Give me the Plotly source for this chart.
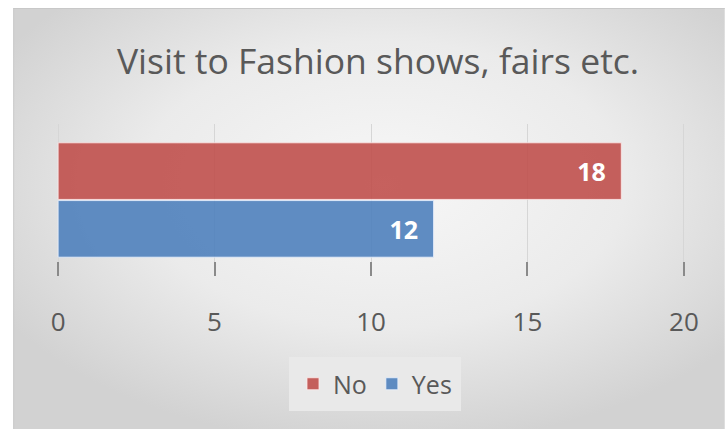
import base64
import plotly.graph_objects as go

# Survey answers
categories = [""]
series_names = ["No", "Yes"]
no_values = [18]
yes_values = [12]
x_ticks = [0, 5, 10, 15, 20]
x_min, x_max = 0, 20

title_text = "Visit to Fashion shows, fairs etc."
font_family = "'Open Sans', Lato, sans-serif"

W, H = 725, 429
# value axis runs from pixel 58 to pixel 684; a small pad keeps the edge gridlines visible
AX_LEFT, AX_RIGHT = 58, 684
PAD = 0.1
unit_px = (AX_RIGHT - AX_LEFT) / (x_max - x_min)
ML = AX_LEFT - PAD * unit_px
MR = W - AX_RIGHT - PAD * unit_px
MT, MB = 124, 153
PW, PH = W - ML - MR, H - MT - MB

# soft radial gradient used as the chart panel background
svg = f"""<svg xmlns='http://www.w3.org/2000/svg' width='712' height='421' viewBox='0 0 712 421'>
<defs><radialGradient id='g' cx='52%' cy='42%' r='62%'>
<stop offset='0' stop-color='#f7f7f7'/><stop offset='0.55' stop-color='#ebebeb'/>
<stop offset='1' stop-color='#d2d2d2'/></radialGradient></defs>
<rect width='712' height='421' fill='url(#g)'/>
<line x1='0' y1='0.5' x2='712' y2='0.5' stroke='#c8c8c8' stroke-width='1'/>
<line x1='0.5' y1='0' x2='0.5' y2='421' stroke='#c8c8c8' stroke-width='1'/>
</svg>"""
bg_uri = "data:image/svg+xml;base64," + base64.b64encode(svg.encode()).decode()


def px_x(px):
    return (px - ML) / PW


def px_y(py):
    return (H - MB - py) / PH


label_font = dict(family=font_family, size=25, color="white", weight="bold")

fig = go.Figure()
fig.add_trace(go.Bar(
    y=categories, x=yes_values, name=series_names[1], orientation="h",
    marker=dict(color="rgba(79,129,189,0.9)", line=dict(color="rgba(235,242,255,0.8)", width=1)),
    text=[f"{v}\u2002" for v in yes_values], textposition="inside", insidetextanchor="end",
    textfont=label_font, legendrank=2, hoverinfo="x+name",
))
fig.add_trace(go.Bar(
    y=categories, x=no_values, name=series_names[0], orientation="h",
    marker=dict(color="rgba(192,80,77,0.9)", line=dict(color="rgba(255,235,235,0.8)", width=1)),
    text=[f"{v}\u2002" for v in no_values], textposition="inside", insidetextanchor="end",
    textfont=label_font, legendrank=1, hoverinfo="x+name",
))

fig.update_layout(
    width=W, height=H,
    margin=dict(l=ML, r=MR, t=MT, b=MB, autoexpand=False),
    paper_bgcolor="white", plot_bgcolor="rgba(0,0,0,0)",
    barmode="group", bargap=0.24, bargroupgap=0.02,
    font=dict(family=font_family, color="#595959"),
    title=dict(text=title_text, xref="container", yref="container",
               x=378 / W, y=1 - 62 / H, xanchor="center", yanchor="middle",
               font=dict(family=font_family, size=35.5, color="#595959")),
    xaxis=dict(range=[x_min - PAD, x_max + PAD], tickvals=x_ticks, showgrid=True,
               gridcolor="#d6d6d6", gridwidth=1,
               zeroline=False, showline=False, ticks="inside", ticklen=14, tickcolor="#8a8a8a",
               tickwidth=2, ticklabelstandoff=28,
               tickfont=dict(family=font_family, size=26, color="#595959")),
    yaxis=dict(showticklabels=False, showgrid=False, zeroline=False, showline=False, ticks=""),
    legend=dict(orientation="h", x=px_x(375), y=px_y(384), xanchor="center", yanchor="middle",
                bgcolor="#e9e9e9", bordercolor="#e9e9e9", borderwidth=4,
                font=dict(family=font_family, size=25, color="#595959"),
                itemwidth=30, traceorder="normal"),
    showlegend=True,
    images=[dict(source=bg_uri, xref="paper", yref="paper",
                 x=px_x(13), y=px_y(8), sizex=(W - 13) / PW, sizey=(H - 8) / PH,
                 xanchor="left", yanchor="top", sizing="stretch", layer="below")],
)

fig.write_html("out.html")
